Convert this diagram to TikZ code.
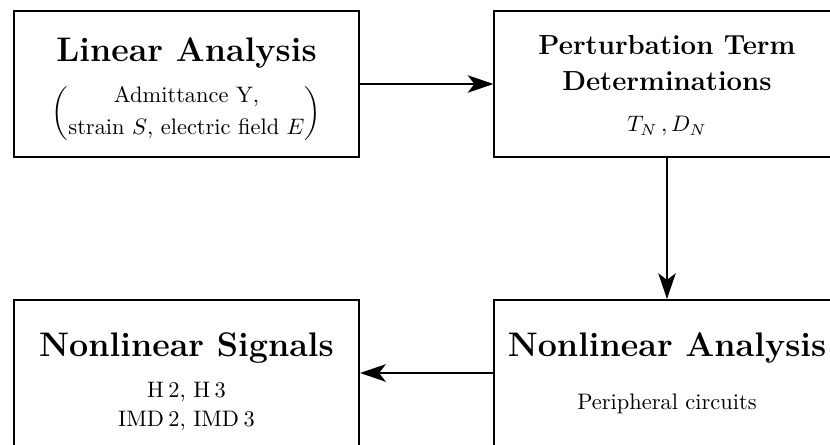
\documentclass[tikz,border=0pt]{standalone}
\usepackage{amsmath}
\usetikzlibrary{arrows.meta}
\newcommand{\bigttl}[1]{{\fontsize{15.2pt}{18pt}\selectfont\bfseries #1}}
\newcommand{\midttl}[1]{{\fontsize{12.3pt}{15pt}\selectfont\bfseries #1}}
\tikzset{
  blk/.style={draw,rectangle,line width=0.9pt,align=center,inner sep=0pt,minimum width=153.9pt,minimum height=65.1pt},
  conn/.style={line width=0.9pt,-{Stealth[length=11.5pt,width=7.8pt,inset=3pt]}},
}

\begin{document}
\begin{tikzpicture}[x=0.446pt,y=0.446pt]
  \clip (0,0) rectangle (830,445);
  \node[blk] (lin) at (186.5,361) {\rule{0pt}{15.9pt}\bigttl{Linear Analysis}\\[6pt]
    $\left(\begin{tabular}{@{}c@{}}Admittance Y,\\[2.1pt] strain $S$, electric field $E$\end{tabular}\right)$};
  \node[blk] (pert) at (667,361) {\rule{0pt}{10.3pt}\midttl{Perturbation Term}\\[3.9pt]
    \midttl{Determinations}\\[6.4pt] $T_N\,, D_N$};
  \node[blk] (sig) at (186.5,72) {\rule{0pt}{18.5pt}\bigttl{Nonlinear Signals}\\[6.1pt]
    H\kern2pt2, H\kern2pt3\\[1.1pt] IMD\kern2pt2, IMD\kern2pt3};
  \node[blk] (nla) at (667,72) {\bigttl{Nonlinear Analysis}\\[11.6pt]
    Peripheral circuits};
  \draw[conn] (lin) -- (pert);
  \draw[conn] (pert) -- (nla);
  \draw[conn] (nla) -- (sig);
\end{tikzpicture}
\end{document}
